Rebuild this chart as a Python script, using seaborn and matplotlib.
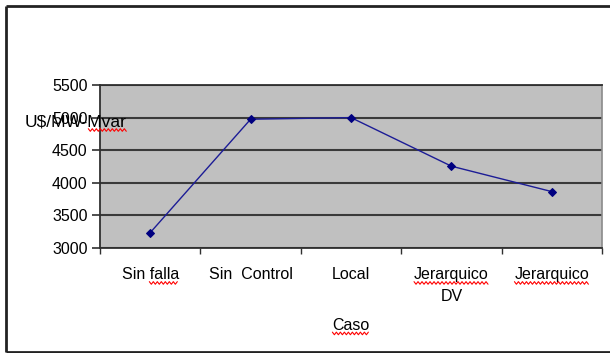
import matplotlib
matplotlib.use("Agg")
import matplotlib.pyplot as plt
from matplotlib.lines import Line2D
from matplotlib.transforms import IdentityTransform
from matplotlib.ticker import FixedLocator, NullFormatter
import numpy as np
import seaborn as sns
import pandas as pd

casos = ["Sin falla", "Sin  Control", "Local", "Jerarquico\nDV", "Jerarquico"]
costos = [3235, 4975, 5000, 4255, 3865]
y_ticks = [3000, 3500, 4000, 4500, 5000, 5500]

df = pd.DataFrame({"Caso": casos, "costo": costos})

sns.set_theme(style="white")
plt.rcParams["font.family"] = ["Liberation Sans", "DejaVu Sans"]

FS = 11.5

fig = plt.figure(figsize=(6.10, 3.53), dpi=100)
ax = fig.add_axes([100 / 610, 1 - 248 / 353, 502 / 610, 163 / 353])
ax.set_facecolor("#c0c0c0")

sns.pointplot(data=df, x="Caso", y="costo", ax=ax, color="#1c1c96",
              markers="D", markersize=4.5, linewidth=1.0, errorbar=None)
for line in ax.lines:
    line.set_markerfacecolor("#000080")
    line.set_markeredgecolor("#000080")

ax.set_xlim(-0.5, len(casos) - 0.5)
ax.set_ylim(y_ticks[0], y_ticks[-1])
ax.set_yticks(y_ticks)
ax.set_yticklabels([str(v) for v in y_ticks], fontsize=FS, color="black")

# category boundaries carry the tick marks, centres carry the labels
ax.xaxis.set_major_locator(FixedLocator([i - 0.5 for i in range(len(casos) + 1)]))
ax.xaxis.set_major_formatter(NullFormatter())
ax.xaxis.set_minor_locator(FixedLocator(list(range(len(casos)))))
ax.set_xticklabels(casos, minor=True, fontsize=FS, color="black", linespacing=1.55)
ax.tick_params(axis="x", which="major", direction="out", length=4, width=1,
               color="#303030", bottom=True)
ax.tick_params(axis="x", which="minor", length=0, pad=14)
ax.tick_params(axis="y", direction="out", length=6, width=1.2, color="#303030",
               left=True, pad=3)

ax.yaxis.grid(True, color="#3a3a3a", linewidth=1.5)
ax.set_axisbelow(True)
for side in ["left", "bottom", "top"]:
    ax.spines[side].set_color("#303030")
    ax.spines[side].set_linewidth(1.3)
ax.spines["right"].set_color("#8a8a8a")
ax.spines["right"].set_linewidth(1.2)

ax.set_xlabel("Caso", fontsize=FS, color="black", labelpad=10)
ax.set_ylabel("")
ylab = fig.text(76 / 610, 1 - 122 / 353, "U$/MW-Mvar", fontsize=12.5,
                color="black", ha="center", va="center")

# outer chart frame (left, top, bottom edges)
fx0, fy0, fy1 = 6 / 610, 1 - 351.5 / 353, 1 - 6 / 353
for xs, ys in [([fx0, fx0], [fy0, fy1]), ([fx0, 1.0], [fy1, fy1]),
               ([fx0, 1.0], [fy0, fy0])]:
    fig.add_artist(Line2D(xs, ys, transform=fig.transFigure,
                          color="#222222", linewidth=2.0,
                          solid_capstyle="butt"))


def wavy_underline(text, word, renderer):
    """Red wavy underline under one word on the first line of a drawn text."""
    prop = text.get_fontproperties()
    line = text.get_text().split("\n")[0]
    bbox = text.get_window_extent(renderer)
    w_line = renderer.get_text_width_height_descent(line, prop, ismath=False)[0]
    start = line.index(word)
    w_end = renderer.get_text_width_height_descent(
        line[:start + len(word)], prop, ismath=False)[0]
    w_word = renderer.get_text_width_height_descent(word, prop, ismath=False)[0]
    ha = text.get_horizontalalignment()
    if ha == "center":
        x_line = (bbox.x0 + bbox.x1) / 2 - w_line / 2
    elif ha == "right":
        x_line = bbox.x1 - w_line
    else:
        x_line = bbox.x0
    x1 = x_line + w_end
    x0 = x1 - w_word
    _, lh, ld = renderer.get_text_width_height_descent("lp", prop, ismath=False)
    baseline = bbox.y1 - (lh - ld)
    y = baseline - 3.5
    xs = np.arange(x0, x1 + 0.1, 2.0)
    ys = y + np.where(np.arange(len(xs)) % 2 == 0, 1.3, -1.3)
    fig.add_artist(Line2D(xs, ys, transform=IdentityTransform(),
                          color="#ff0000", linewidth=0.8))


fig.canvas.draw()
rend = fig.canvas.get_renderer()
minor_labels = list(ax.get_xticklabels(minor=True))
wavy_underline(minor_labels[0], "falla", rend)
wavy_underline(minor_labels[3], "Jerarquico", rend)
wavy_underline(minor_labels[4], "Jerarquico", rend)
wavy_underline(ax.xaxis.label, "Caso", rend)
wavy_underline(ylab, "Mvar", rend)

fig.savefig("out.png", dpi=100, facecolor="white")
